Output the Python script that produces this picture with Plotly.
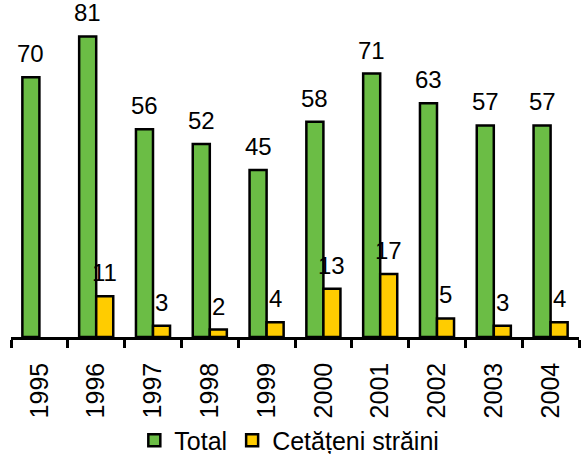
import plotly.graph_objects as go

years = ["1995", "1996", "1997", "1998", "1999", "2000", "2001", "2002", "2003", "2004"]
total = [70, 81, 56, 52, 45, 58, 71, 63, 57, 57]
straini = [None, 11, 3, 2, 4, 13, 17, 5, 3, 4]

font = "Liberation Sans, Arial, sans-serif"

fig = go.Figure()
fig.add_trace(go.Bar(
    x=years, y=total, name="Total",
    marker=dict(color="#6BBD45", line=dict(color="black", width=2.5)),
))
fig.add_trace(go.Bar(
    x=years, y=straini, name="Cetățeni străini",
    marker=dict(color="#FFCC00", line=dict(color="black", width=2.5)),
))

# value labels above each bar (x given as category index on the category axis)
for series, dx in ((total, -8.5), (straini, 8.5)):
    for i, v in enumerate(series):
        if v is None:
            continue
        fig.add_annotation(
            x=i, y=v, text=str(v), showarrow=False,
            xanchor="center", yanchor="bottom", xshift=dx, yshift=8,
            font=dict(size=24, color="black", family=font),
        )

fig.update_layout(
    width=581, height=454,
    margin=dict(l=11, r=2, t=3, b=117, autoexpand=False),
    paper_bgcolor="white", plot_bgcolor="white",
    barmode="group", bargap=0.4, bargroupgap=0,
    font=dict(family=font, size=25, color="black"),
    showlegend=True,
    legend=dict(orientation="h", x=0.49, xanchor="center", y=-0.31, yanchor="middle",
                font=dict(size=25), itemwidth=30, tracegroupgap=0),
)
fig.update_xaxes(
    type="category", showline=True, linecolor="black", linewidth=2.5,
    ticks="outside", tickson="boundaries", ticklen=8, tickwidth=2.5, tickcolor="black",
    tickangle=-90, tickfont=dict(size=25), showgrid=False, automargin=False,
    ticklabelstandoff=13,
)
fig.update_yaxes(range=[0, 90], visible=False, showgrid=False, automargin=False)

fig.write_html("out.html", config={"displayModeBar": False},
               post_script="document.body.style.margin='0';document.body.style.overflow='hidden';")
